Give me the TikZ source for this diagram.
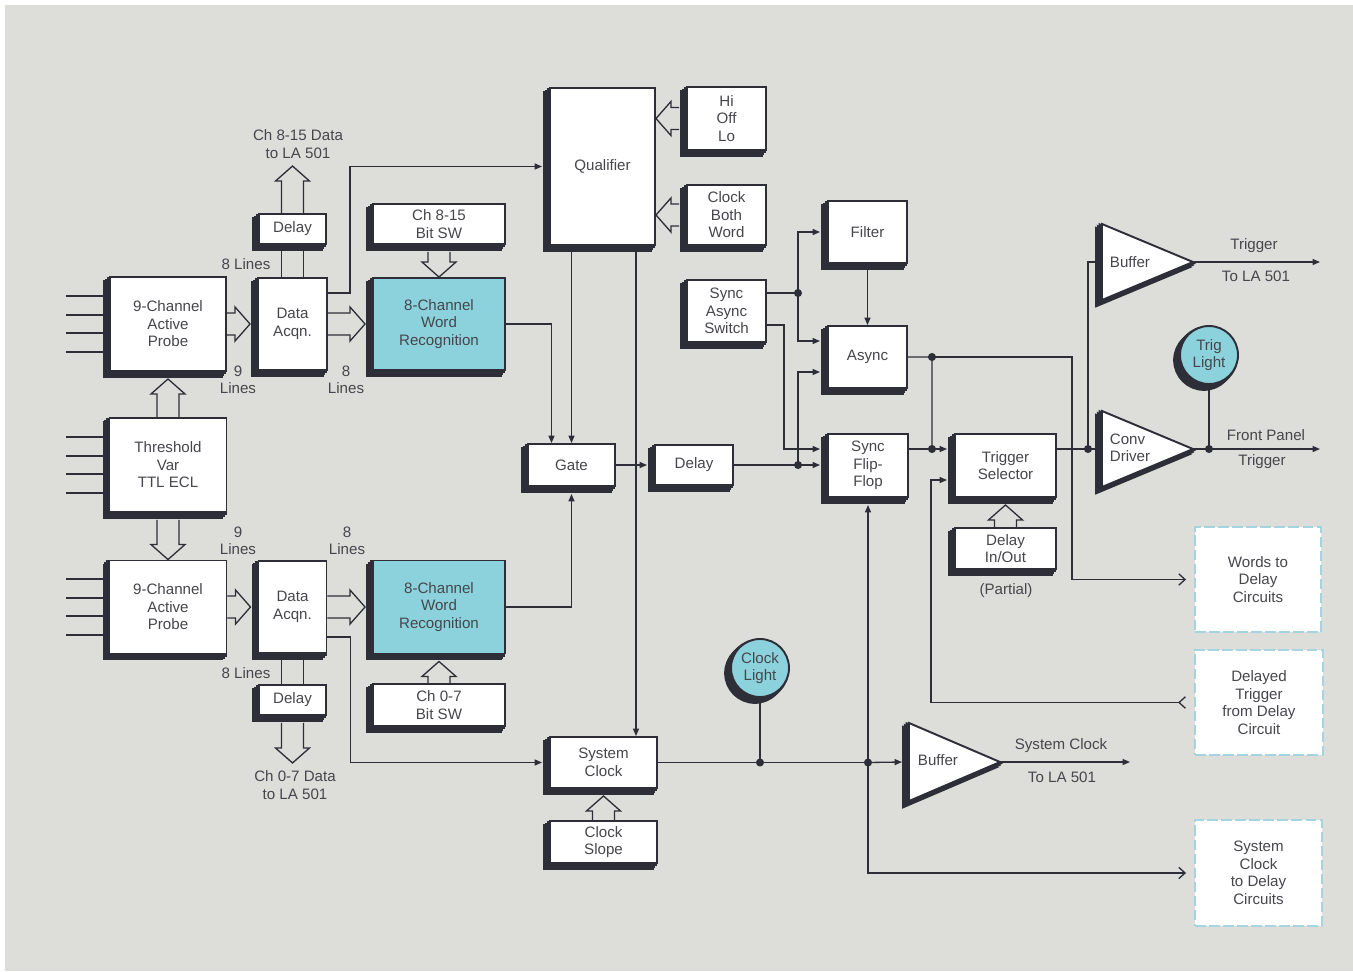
\documentclass[tikz,border=0pt]{standalone}
\usepackage{fontspec}
\setmainfont{Liberation Sans}
\usetikzlibrary{calc,arrows.meta}

\definecolor{bgc}{RGB}{221,221,218}
\definecolor{ink}{RGB}{46,46,56}
\definecolor{txtc}{RGB}{70,70,76}
\definecolor{cyanf}{RGB}{140,210,220}
\definecolor{dashc}{RGB}{165,212,225}

\newcommand{\fs}{\fontsize{8.6}{10}\selectfont}

\tikzset{
  shd/.style={preaction={fill=ink, draw=ink, line width=2pt, transform canvas={shift={(-#1,-#1)}}}},
  sz/.style 2 args={minimum width=#1*0.02cm, minimum height=#2*0.02cm},
  blk/.style={draw=ink, fill=white, line width=1.1pt, align=center, text=txtc, font=\fs, inner sep=1pt, shd=0.9pt, shd=1.9pt, shd=2.9pt},
  hot/.style={blk, fill=cyanf},
  lamp/.style={hot, circle, minimum size=1.16cm},
  tri/.style={draw=ink, fill=white, line width=1.1pt, line join=miter, shd=0.9pt, shd=1.9pt, shd=2.9pt},
  extbox/.style={draw=dashc, fill=white, line width=1.1pt, dash pattern=on 6pt off 2pt, align=center, text=txtc, font=\fs},
  txt/.style={text=txtc, font=\fs, align=center, inner sep=0pt},
  sig/.style={draw=ink, line width=0.75pt},
  arr/.style={sig, -{Triangle[length=4.2pt,width=3.4pt]}},
  toext/.style={sig, -{Straight Barb[length=3.6pt,width=6.5pt]}},
  fromext/.style={sig, {Straight Barb[reversed,length=3.6pt,width=6.5pt]}-{Triangle[length=4.2pt,width=3.4pt]}},
  bus/.style={draw=ink, line width=0.75pt, line join=miter},
  busE/.style={to path={($(\tikztostart)+(0,-11)$) -- ($(\tikztotarget)+(-22,-11)$) -- ++(0,-6) -- ($(\tikztotarget)+(-7,0)$) -- ($(\tikztotarget)+(-22,17)$) -- ++(0,-6) -- ($(\tikztostart)+(0,11)$)}},
  busW/.style={to path={($(\tikztostart)+(-7,-11)$) -- ($(\tikztotarget)+(15,-11)$) -- ++(0,-6) -- (\tikztotarget) -- ($(\tikztotarget)+(15,17)$) -- ++(0,-6) -- ($(\tikztostart)+(-7,11)$)}},
  busN/.style={to path={($(\tikztostart)+(-11,0)$) -- ($(\tikztotarget)+(-11,22)$) -- ++(-6,0) -- ($(\tikztotarget)+(0,7)$) -- ($(\tikztotarget)+(17,22)$) -- ++(-6,0) -- ($(\tikztostart)+(11,0)$)}},
  busS/.style={to path={($(\tikztostart)+(-11,7)$) -- ($(\tikztotarget)+(-11,-15)$) -- ++(-6,0) -- (\tikztotarget) -- ($(\tikztotarget)+(17,-15)$) -- ++(-6,0) -- ($(\tikztostart)+(11,7)$)}},
  pair/.style={to path={($(\tikztostart)+(-11,0)$) -- ($(\tikztotarget)+(-11,0)$) ($(\tikztostart)+(11,0)$) -- ($(\tikztotarget)+(11,0)$)}},
}

\begin{document}
\begin{tikzpicture}[x=0.02cm, y=-0.02cm]
\useasboundingbox (0,0) rectangle (1353,971);
\fill[white] (0,0) rectangle (1353,971);
\fill[bgc] (5,5) rectangle (1353,971);

% probes and data acquisition
\node[blk, sz={116}{94}] (probeA) at (168,324) {9-Channel\\Active\\Probe};
\node[blk, sz={69}{92}] (dacqA) at (292.5,324) {Data\\Acqn.};
\node[blk, sz={67}{30}] (dlyA) at (292.5,229) {Delay};
\node[blk, sz={132}{40}] (bitswA) at (439,224) {Ch 8-15\\Bit SW};
\node[hot, sz={132}{92}] (wordA) at (439,324) {8-Channel\\Word\\Recognition};
\node[blk, sz={117}{94}] (thresh) at (168,465) {Threshold\\Var\\TTL ECL};
\node[blk, sz={117}{93}] (probeB) at (168,607) {9-Channel\\Active\\Probe};
\node[blk, sz={68}{92}] (dacqB) at (292.5,607) {Data\\Acqn.};
\node[hot, sz={132}{93}] (wordB) at (439,607) {8-Channel\\Word\\Recognition};
\node[blk, sz={67}{30}] (dlyB) at (292.5,700) {Delay};
\node[blk, sz={132}{42}] (bitswB) at (439,705) {Ch 0-7\\Bit SW};

% qualifier and trigger logic
\node[blk, sz={105}{157}] (qual) at (602.5,166.5) {Qualifier};
\node[blk, sz={79}{63}] (hilo) at (726.5,118.5) {Hi\\Off\\Lo};
\node[blk, sz={79}{60}] (cbw) at (726.5,215) {Clock\\Both\\Word};
\node[blk, sz={79}{62}] (sas) at (726.5,311) {Sync\\Async\\Switch};
\node[blk, sz={79}{62}] (filt) at (867.5,232) {Filter};
\node[blk, sz={79}{62}] (async) at (867.5,357) {Async};
\node[blk, sz={80}{63}] (sff) at (868,465.5) {Sync\\Flip-\\Flop};
\node[blk, sz={87}{42}] (gate) at (571.5,465) {Gate};
\node[blk, sz={78}{40}] (dlyC) at (694,465) {Delay};
\node[blk, sz={101}{63}] (tsel) at (1005.5,465.5) {Trigger\\Selector};
\node[blk, sz={101}{41}] (dio) at (1005.5,548.5) {Delay\\In/Out};
\node[txt] (part) at (1006,591) {(Partial)};
\node[blk, sz={107}{51}] (sysclk) at (603.5,762.5) {System\\Clock};
\node[blk, sz={107}{42}] (cslope) at (603.5,842) {Clock\\Slope};

% lights and outside circuits
\node[lamp] (trigL) at (1209,355) {Trig\\Light};
\node[lamp] (clkL) at (760,668) {Clock\\Light};
\node[extbox, sz={126}{105}] (words) at (1258,579.5) {Words to\\Delay\\Circuits};
\node[extbox, sz={128}{105}] (dlytrig) at (1259,702.5) {Delayed\\Trigger\\from Delay\\Circuit};
\node[extbox, sz={127}{106}] (clkdly) at (1258.5,873) {System\\Clock\\to Delay\\Circuits};

% drivers
\coordinate (bufAI) at (1102,262);
\coordinate (bufAO) at ($(bufAI)+(91,0)$);
\draw[tri] ($(bufAI)+(0,-38)$) -- (bufAO) -- ($(bufAI)+(0,38)$) -- cycle;
\node[txt] (bufA) at ($(bufAI)+(28,0)$) {Buffer};

\coordinate (convI) at (1102,449);
\coordinate (convO) at ($(convI)+(91,0)$);
\draw[tri] ($(convI)+(0,-38)$) -- (convO) -- ($(convI)+(0,38)$) -- cycle;
\node[txt, align=left] (conv) at ($(convI)+(28,-1)$) {Conv\\Driver};

\coordinate (bufBI) at (909,762);
\coordinate (bufBO) at ($(bufBI)+(91,0)$);
\draw[tri] ($(bufBI)+(0,-39)$) -- (bufBO) -- ($(bufBI)+(0,39)$) -- cycle;
\node[txt] (bufB) at ($(bufBI)+(29,-2)$) {Buffer};

% junctions
\coordinate (jSw) at ($(sas.east)+(31,-18)$);
\coordinate (jDl) at ($(sff.west)+(-29,-0.5)$);
\coordinate (jAs) at ($(async.east)+(24,0)$);
\coordinate (jFf) at ($(sff.east)+(23,-16.5)$);
\coordinate (jTs) at ($(tsel.east)+(31,-16.5)$);
\coordinate (jFp) at (trigL |- convO);
\coordinate (jCl) at (clkL |- sysclk.east);
\coordinate (jSc) at (sff.south |- sysclk.east);
\coordinate (outA) at ($(dlyA.north)+(0,-54)$);
\coordinate (outB) at ($(dlyB.south)+(0,47)$);
\coordinate (qualHi) at (qual.east |- hilo.west);
\coordinate (qualCb) at (qual.east |- cbw.west);

% probe inputs
\foreach \dy in {-28,-9,9,28} {
  \draw[sig] ($(probeA.west)+(0,\dy)$) -- ++(-43,0);
  \draw[sig] ($(thresh.west)+(0,\dy)$) -- ++(-43,0);
  \draw[sig] ($(probeB.west)+(0,\dy)$) -- ++(-43,0);
}

% buses
\draw[bus] (probeA.east) to[busE] (dacqA.west);
\draw[bus] (dacqA.east) to[busE] (wordA.west);
\draw[bus] (probeB.east) to[busE] (dacqB.west);
\draw[bus] (dacqB.east) to[busE] (wordB.west);
\draw[bus] (bitswA.south) to[busS] (wordA.north);
\draw[bus] (bitswB.north) to[busN] (wordB.south);
\draw[bus] (thresh.north) to[busN] (probeA.south);
\draw[bus] (thresh.south) to[busS] (probeB.north);
\draw[bus] (dacqA.north) to[pair] (dlyA.south);
\draw[bus] (dacqB.south) to[pair] (dlyB.north);
\draw[bus] (dlyA.north) to[busN] (outA);
\draw[bus] (dlyB.south) to[busS] (outB);
\draw[bus] (hilo.west) to[busW] (qualHi);
\draw[bus] (cbw.west) to[busW] (qualCb);
\draw[bus] (dio.north) to[busN] (tsel.south);
\draw[bus] (cslope.north) to[busN] (sysclk.south);

% signal lines
\draw[arr] ($(dacqA.east)+(0,-31)$) -- ++(22,0) |- ($(qual.west)+(-7,0)$);
\draw[arr] (wordA.east) -| ($(gate.north)+(-20,0)$);
\draw[arr] (qual.south -| gate.north) -- (gate.north);
\draw[arr] ($(qual.south)+(33.5,0)$) coordinate (qs) -- (qs |- sysclk.north);
\draw[arr] (wordB.east) -| ($(gate.south)+(0,7)$);
\draw[arr] ($(dacqB.east)+(0,30)$) -- ++(23,0) |- ($(sysclk.west)+(-7,0)$);
\draw[arr] (gate.east) -- ($(dlyC.west)+(-7,0)$);
\draw[arr] (dlyC.east) -- ($(sff.west)+(-7,-0.5)$);
\draw[arr] (jDl) |- ($(async.west)+(-7,15)$);
\draw[sig] ($(sas.east)+(0,-18)$) -- (jSw);
\draw[arr] (jSw) |- ($(filt.west)+(-7,0)$);
\draw[arr] (jSw) |- ($(async.west)+(-7,-16)$);
\draw[arr] ($(sas.east)+(0,14)$) -- ++(17,0) |- ($(sff.west)+(-7,-16.5)$);
\draw[arr] (filt.south) -- (async.north);
\draw[sig] (async.east) -- (jAs) -- (jFf);
\draw[toext] (jAs) -- ++(140,0) |- ($(words.west)+(-8,0)$);
\draw[arr] ($(sff.east)+(0,-16.5)$) -- ($(tsel.west)+(-7,-16.5)$);
\draw[sig] ($(tsel.east)+(0,-16.5)$) -- (convI);
\draw[sig] (jTs) |- (bufAI);
\draw[arr] (bufAO) -- ++(127,0) coordinate (trgA);
\draw[arr] (convO) -- ++(127,0) coordinate (trgB);
\draw[sig] (trigL.south) -- (jFp);
\draw[fromext] ($(dlytrig.west)+(-8,0)$) -- ++(-255,0) |- ($(tsel.west)+(-7,14.5)$);
\draw[sig] (sysclk.east) -- (jSc);
\draw[arr] (jSc) -- ($(bufBI)+(-7,0)$);
\draw[sig] (clkL.south) -- (jCl);
\draw[arr] (jSc) -- ($(sff.south)+(0,7)$);
\draw[toext] (jSc) |- ($(clkdly.west)+(-8,0)$);
\draw[arr] (bufBO) -- ++(130,0);

\foreach \j in {jSw,jDl,jAs,jFf,jTs,jFp,jCl,jSc}
  \fill[ink] (\j) circle[radius=2.3pt];

% labels
\node[txt] (lnA1) at (246,264) {8 Lines};
\node[txt] (lnA2) at (238,380) {9\\Lines};
\node[txt] (lnA3) at (346,380) {8\\Lines};
\node[txt] (lnB1) at (238,541) {9\\Lines};
\node[txt] (lnB2) at (347,541) {8\\Lines};
\node[txt] (lnB3) at (246,673) {8 Lines};
\node[txt] (chA) at (298,144) {Ch 8-15 Data\\to LA 501};
\node[txt] (chB) at (295,785) {Ch 0-7 Data\\to LA 501};
\node[txt] (trgA1) at (1254,246) {Trigger};
\node[txt] (trgA2) at (1256,276) {To LA 501};
\node[txt] (trgB1) at (1266,435) {Front Panel};
\node[txt] (trgB2) at (1262,462) {Trigger};
\node[txt] (clkO1) at (1061,746) {System Clock};
\node[txt] (clkO2) at (1062,777) {To LA 501};
\end{tikzpicture}
\end{document}
